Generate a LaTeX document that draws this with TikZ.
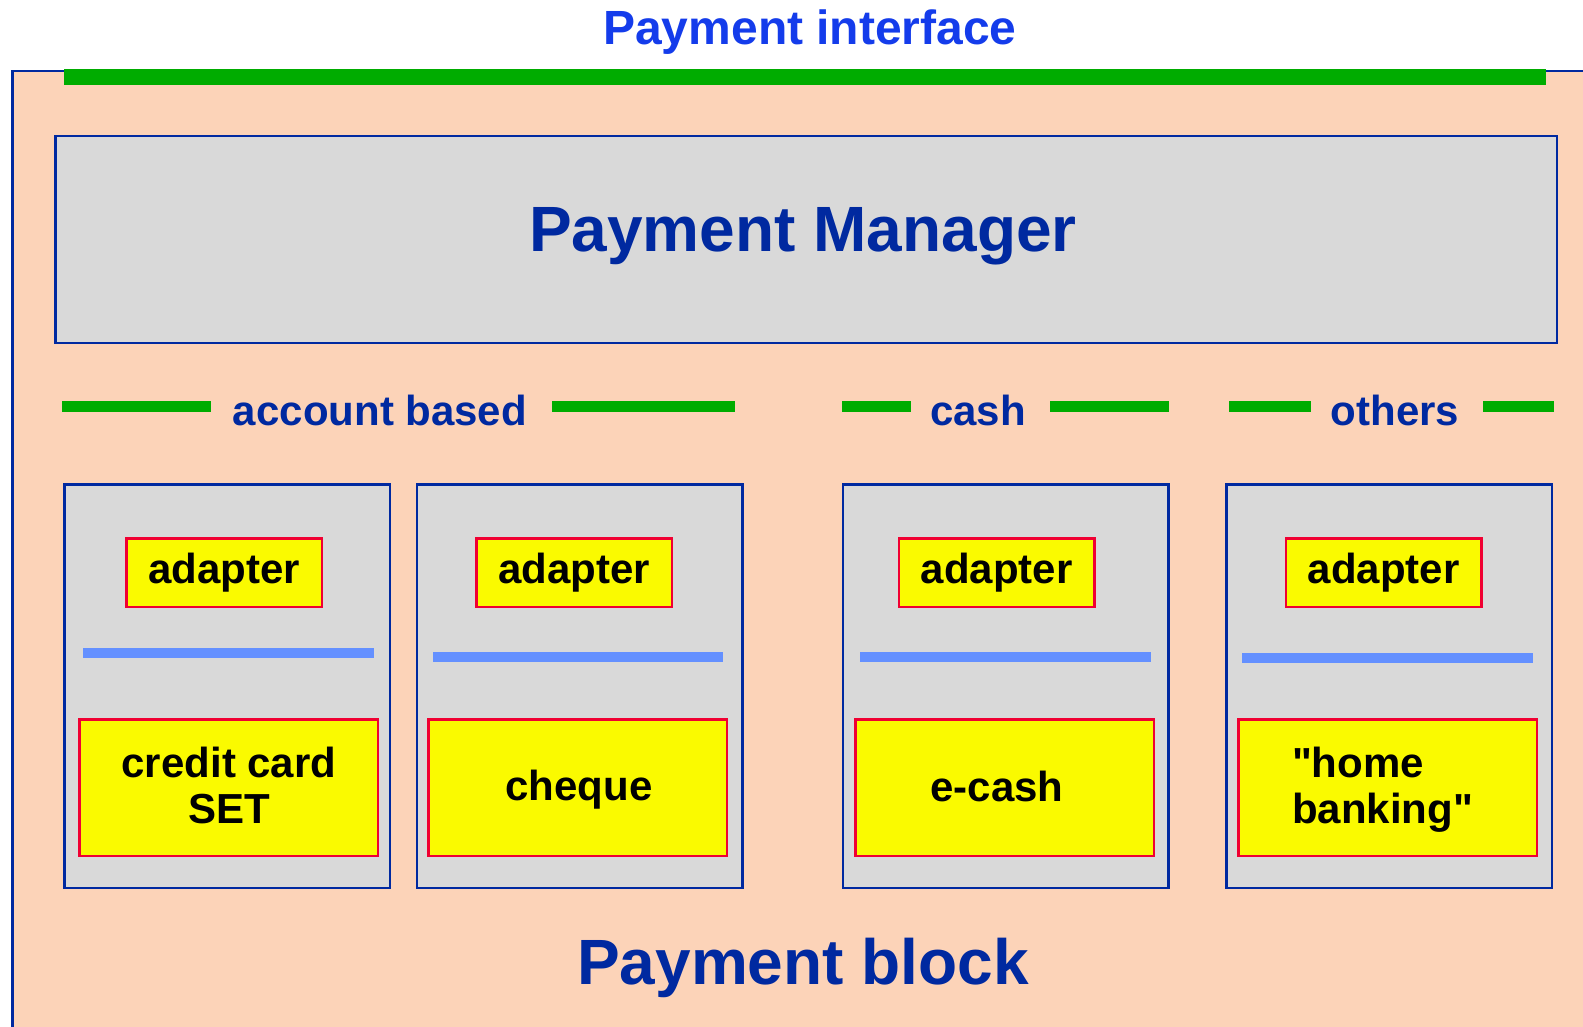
\documentclass[tikz,border=0pt]{standalone}
\usepackage{fontspec}
\setmainfont{Liberation Sans}
\definecolor{peach}{RGB}{252,211,184}
\definecolor{navy}{RGB}{0,41,160}
\definecolor{titleblue}{RGB}{20,60,235}
\definecolor{gbar}{RGB}{0,172,0}
\definecolor{boxgrey}{RGB}{217,217,217}
\definecolor{ylw}{RGB}{250,250,0}
\definecolor{redb}{RGB}{240,0,50}
\definecolor{lblue}{RGB}{100,144,255}
\tikzset{
  gbox/.style={draw=navy,line width=2.5pt,fill=boxgrey,inner sep=0pt,minimum width=325.5pt,minimum height=403.5pt},
  adbox/.style={draw=redb,line width=2.5pt,fill=ylw,inner sep=0pt,minimum width=195.5pt,minimum height=68.5pt,
     font=\fontsize{42}{47}\selectfont\bfseries,text=black},
  ybox/.style={draw=redb,line width=2.5pt,fill=ylw,inner sep=0pt,minimum width=298.5pt,minimum height=136.5pt},
  ytext/.style={inner sep=0pt,font=\fontsize{42}{46}\selectfont\bfseries,text=black},
  grp/.style={inner sep=0pt,anchor=base,font=\fontsize{42}{47}\selectfont\bfseries,text=navy},
  greenbar/.style={fill=gbar,draw=none},
  bluebar/.style={fill=lblue,draw=none}
}
\begin{document}
\begin{tikzpicture}[x=1pt,y=-1pt]
\useasboundingbox (0,0) rectangle (1583,1027);
\clip (0,0) rectangle (1583,1027);
\fill[white] (0,0) rectangle (1583,1027);
% outer payment block
\draw[draw=navy,line width=2.5pt,fill=peach] (12.5,71) rectangle (1620,1060);
\fill[greenbar] (64,69.5) rectangle (1546,85);
\node[inner sep=0pt,anchor=base,font=\fontsize{48}{52}\selectfont\bfseries,text=titleblue] (iface) at (810,44.5) {Payment interface};
% payment manager
\node[draw=navy,line width=2.5pt,fill=boxgrey,inner sep=0pt,minimum width=1501.5pt,minimum height=206.5pt] (pm) at (806,239.5) {};
\node[inner sep=0pt,anchor=base,font=\fontsize{64}{70}\selectfont\bfseries,text=navy] (pmtext) at (803,252) {Payment Manager};
% group labels
\fill[greenbar] (62,401) rectangle (211,412);
\fill[greenbar] (552,401) rectangle (735,412);
\fill[greenbar] (842,401) rectangle (911,412);
\fill[greenbar] (1050,401) rectangle (1169,412);
\fill[greenbar] (1229,401) rectangle (1311,412);
\fill[greenbar] (1483,401) rectangle (1554,412);
\node[grp] (acc) at (380,425) {account based};
\node[grp] (cash) at (978,425) {cash};
\node[grp] (oth) at (1395,425) {others};
% grey boxes
\node[gbox] (g1) at (227,686) {};
\node[gbox] (g2) at (579.5,686) {};
\node[gbox] (g3) at (1005.5,686) {};
\node[gbox] (g4) at (1389,686) {};
% adapters
\node[adbox] (a1) at (224,572.5) {adapter};
\node[adbox] (a2) at (574,572.5) {adapter};
\node[adbox] (a3) at (996.5,572.5) {adapter};
\node[adbox] (a4) at (1383.5,572.5) {adapter};
% blue lines
\fill[bluebar] (83,648) rectangle (374,658);
\fill[bluebar] (433,652) rectangle (723,662);
\fill[bluebar] (860,652) rectangle (1151,662);
\fill[bluebar] (1242,652.5) rectangle (1533,662.5);
% yellow boxes
\node[ybox] (y1) at (228.5,787.5) {};
\node[ybox] (y2) at (577.5,787.5) {};
\node[ybox] (y3) at (1004.5,787.5) {};
\node[ybox] (y4) at (1387.5,787.5) {};
\node[ytext,align=center] (t1) at (229,785) {credit card\\SET};
\node[ytext] (t2) at (579,790) {cheque};
\node[ytext] (t3) at (997,786) {e-cash};
\node[ytext,align=left] (t4) at (1382.5,789.5) {\textquotedbl home\\banking\textquotedbl};
% bottom label
\node[inner sep=0pt,anchor=base,font=\fontsize{64}{70}\selectfont\bfseries,text=navy] (pb) at (803,984) {Payment block};
\end{tikzpicture}
\end{document}
